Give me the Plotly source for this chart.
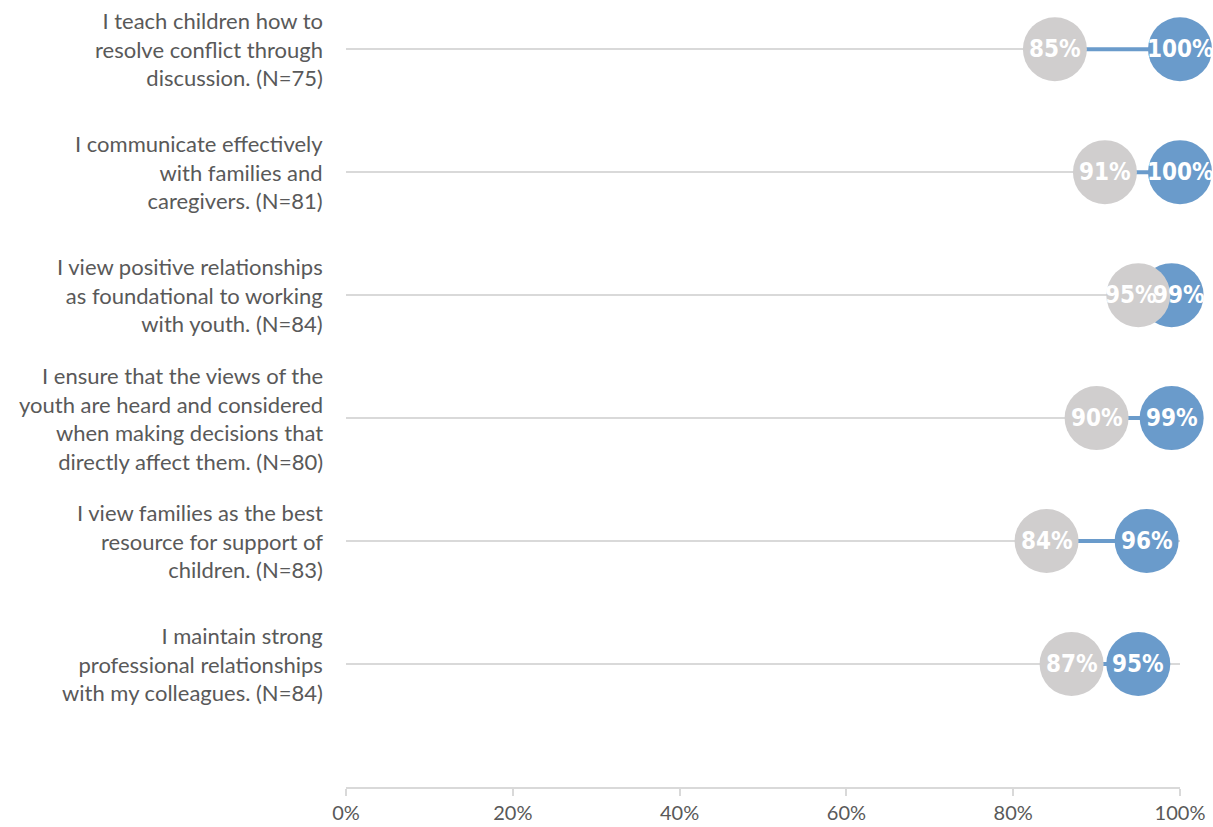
import plotly.graph_objects as go

# Survey items (top to bottom) and their respondent counts
items = [
    "I teach children how to<br>resolve conflict through<br>discussion.",
    "I communicate effectively<br>with families and<br>caregivers.",
    "I view positive relationships<br>as foundational to working<br>with youth.",
    "I ensure that the views of the<br>youth are heard and considered<br>when making decisions that<br>directly affect them.",
    "I view families as the best<br>resource for support of<br>children.",
    "I maintain strong<br>professional relationships<br>with my colleagues.",
]
n_counts = [75, 81, 84, 80, 83, 84]

# Percent agreeing, two measurements per item
pre_pct = [85, 91, 95, 90, 84, 87]
post_pct = [100, 100, 99, 99, 96, 95]

x_ticks = [0, 20, 40, 60, 80, 100]

GREY = "#D0CECE"
BLUE = "#6A9BCB"
TEXT = "#595959"
GRID = "#D9D9D9"

rows = list(range(len(items), 0, -1))  # 6 .. 1, top row first

fig = go.Figure()

# connector between the two values of each item
for y, a, b in zip(rows, pre_pct, post_pct):
    fig.add_trace(go.Scatter(
        x=[a / 100, b / 100], y=[y, y], mode="lines",
        line=dict(color=BLUE, width=4), hoverinfo="skip", showlegend=False,
    ))

fig.add_trace(go.Scatter(
    x=[v / 100 for v in post_pct], y=rows, mode="markers",
    marker=dict(size=64, color=BLUE, line=dict(width=0)),
    showlegend=False, cliponaxis=False,
))
fig.add_trace(go.Scatter(
    x=[v / 100 for v in pre_pct], y=rows, mode="markers",
    marker=dict(size=64, color=GREY, line=dict(width=0)),
    showlegend=False, cliponaxis=False,
))

# value labels, nudged apart when the two circles nearly coincide
label_font = dict(family="DejaVu Sans Condensed, Liberation Sans Narrow, Arial Narrow",
                  size=24, color="white")
for y, a, b in zip(rows, pre_pct, post_pct):
    gap = b - a
    nudge = 7 if gap < 6 else 0
    fig.add_annotation(x=a / 100, y=y, text=f"<b>{a}%</b>", showarrow=False,
                       xshift=-nudge, font=label_font)
    fig.add_annotation(x=b / 100, y=y, text=f"<b>{b}%</b>", showarrow=False,
                       xshift=nudge, font=label_font)

for y, item, n in zip(rows, items, n_counts):
    fig.add_annotation(
        x=0, xref="paper", y=y, yref="y", xanchor="right", yanchor="middle",
        xshift=-21, align="right", showarrow=False,
        text=f"{item} (N={n})",
        font=dict(family="Lato, Open Sans, sans-serif", size=22, color=TEXT),
    )

fig.update_layout(
    width=1213, height=827,
    margin=dict(l=346, r=33, t=0, b=40),
    paper_bgcolor="white", plot_bgcolor="white",
    xaxis=dict(
        range=[0, 1], tickvals=[t / 100 for t in x_ticks],
        ticktext=[f"{t}%" for t in x_ticks],
        showgrid=False, zeroline=False,
        showline=True, linecolor=GRID, linewidth=2,
        ticks="outside", ticklen=7, tickcolor=GRID, tickwidth=2,
        tickfont=dict(family="Lato, Open Sans, sans-serif", size=20, color=TEXT),
    ),
    yaxis=dict(
        range=[0, 6.4], tickvals=rows, showticklabels=False,
        showgrid=True, gridcolor=GRID, gridwidth=2,
        zeroline=False, showline=False,
    ),
)

fig.write_html("out.html")
